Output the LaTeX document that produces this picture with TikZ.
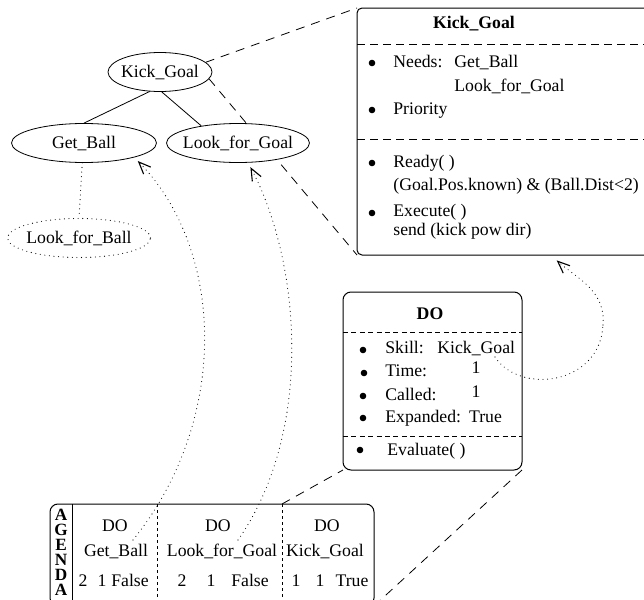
\documentclass[tikz,border=0pt]{standalone}
\usepackage{fontspec}
\setmainfont{Liberation Serif}
\usetikzlibrary{shapes.geometric,arrows.meta}
\pgfdeclarelayer{bg}
\pgfsetlayers{bg,main}

\begin{document}
\fontsize{8.85}{10.6}\selectfont
\begin{tikzpicture}[x=0.5pt,y=-0.5pt,
    bub/.style={ellipse,draw,fill=white,inner xsep=-3pt,inner ysep=0pt,minimum height=19.5pt},
    lbl/.style={inner sep=0pt,text height=6pt,text depth=1.6pt},
    ttl/.style={lbl,font=\bfseries},
    dotmark/.style={circle,fill,inner sep=0pt,minimum size=3.3pt},
    zoomln/.style={dash pattern=on 4.5pt off 3.5pt},
    topsep/.style={dash pattern=on 4pt off 2.5pt},
    dosep/.style={dash pattern=on 2.5pt off 1.7pt},
    agsep/.style={dash pattern=on 1.5pt off 1.5pt},
    dotln/.style={line width=0.55pt,line cap=round,dash pattern=on 0pt off 2.3pt},
    ptr/.style={dotln,shorten >=2.5pt,-{Straight Barb[length=6pt,width=5pt]}},
    boxln/.style={line width=0.5pt}]
  \useasboundingbox (0,0) rectangle (644,600);
  \clip (0,0) rectangle (644,600);

  \node[bub,minimum width=52pt] (kg) at (160,72) {Kick\_Goal};
  \node[bub,minimum width=72.5pt] (gb) at (84,143) {Get\_Ball};
  \node[bub,minimum width=71.5pt] (lg) at (238,143) {Look\_for\_Goal};
  \node[bub,dotln,minimum width=71.5pt] (lb) at (79,238) {Look\_for\_Ball};
  \draw (kg.-118) -- (gb.north);
  \draw (kg.-85) -- (lg.155);
  \draw[dotln] (gb.-95) -- (lb.north);

  \coordinate (kgNW) at (357,8);
  \coordinate (kgSW) at (357,255);
  \coordinate (kgSE) at (660,255);
  \draw[boxln,rounded corners=2.5pt] (kgNW) rectangle (kgSE);
  \begin{pgfonlayer}{bg}
    \draw[zoomln] (kg.12) -- (kgNW);
    \draw[zoomln] (kg.-8) -- (kgSW);
  \end{pgfonlayer}
  \node[ttl] (kgt) at (474,24) {Kick\_Goal};
  \draw[topsep] (357,44) -- (660,44);
  \node[dotmark] (kb1) at (372,63) {};
  \node[lbl,anchor=west] (kneed) at (393,63) {Needs:};
  \node[lbl,anchor=west] (kn1) at (454,63) {Get\_Ball};
  \node[lbl,anchor=west] (kn2) at (454,87) {Look\_for\_Goal};
  \node[dotmark] (kb2) at (372,110) {};
  \node[lbl,anchor=west] (kprio) at (393,110) {Priority};
  \draw[topsep] (357,139) -- (660,139);
  \node[dotmark] (kb3) at (372,163) {};
  \node[lbl,anchor=west] (kready) at (393,163) {Ready( )};
  \node[lbl,anchor=west] (kcond) at (393,186) {(Goal.Pos.known) \& (Ball.Dist<2)};
  \node[dotmark] (kb4) at (372,213) {};
  \node[lbl,anchor=west] (kexec) at (393,212) {Execute( )};
  \node[lbl,anchor=west] (ksend) at (393,231) {send (kick pow dir)};

  \coordinate (doNW) at (343,292);
  \coordinate (doSW) at (343,470);
  \coordinate (doSE) at (522,470);
  \draw[boxln,rounded corners=4pt] (doNW) rectangle (doSE);
  \node[ttl] (dot) at (430,315) {DO};
  \draw[dosep] (343,332) -- (522,332);
  \node[dotmark] (db1) at (363,350) {};
  \node[lbl,anchor=west] (dskill) at (385,349) {Skill:};
  \node[lbl,anchor=west] (dskv) at (437,349) {Kick\_Goal};
  \node[dotmark] (db2) at (364,373) {};
  \node[lbl,anchor=west] (dtime) at (385,372) {Time:};
  \node[lbl] (dtv) at (476,369) {1};
  \node[dotmark] (db3) at (363,396) {};
  \node[lbl,anchor=west] (dcall) at (385,396) {Called:};
  \node[lbl] (dcv) at (476,393) {1};
  \node[dotmark] (db4) at (363,418) {};
  \node[lbl,anchor=west] (dexp) at (385,418) {Expanded:\hspace{0.45em}True};
  \draw[dosep] (343,436) -- (522,436);
  \node[dotmark] (db5) at (360,450) {};
  \node[lbl,anchor=west] (deval) at (387,451) {Evaluate( )};

  \coordinate (agNW) at (50,504);
  \coordinate (agSE) at (374,606);
  \coordinate (ag2) at (282,504);
  \draw[boxln,rounded corners=4pt] (agNW) rectangle (agSE);
  \draw (72,504) -- (72,606);
  \draw[agsep] (157,504) -- (157,606);
  \draw[agsep] (ag2) -- (282,606);
  \node[inner sep=0pt,anchor=north,align=center,font=\fontsize{8.6}{7.5}\selectfont\bfseries] (agl) at (61,509) {A\\G\\E\\N\\D\\A};
  \node[lbl] (a1do) at (115,527) {DO};
  \node[lbl] (a1sk) at (116,552) {Get\_Ball};
  \node[lbl] (a1t) at (83,582) {2};
  \node[lbl] (a1c) at (102,582) {1};
  \node[lbl] (a1e) at (130,582) {False};
  \node[lbl] (a2do) at (218,527) {DO};
  \node[lbl] (a2sk) at (222,552) {Look\_for\_Goal};
  \node[lbl] (a2t) at (182,582) {2};
  \node[lbl] (a2c) at (211,582) {1};
  \node[lbl] (a2e) at (250,582) {False};
  \node[lbl] (a3do) at (327,527) {DO};
  \node[lbl] (a3sk) at (325,552) {Kick\_Goal};
  \node[lbl] (a3t) at (296,582) {1};
  \node[lbl] (a3c) at (320,582) {1};
  \node[lbl] (a3e) at (352,582) {True};
  \draw[zoomln] (ag2) -- (doSW);
  \draw[zoomln] (agSE) -- (doSE);

  \coordinate (p1) at (133,540);
  \coordinate (p2) at (238,540);
  \coordinate (p3) at (495,357);
  \coordinate (kgin) at (553,257);
  \draw[ptr] (p1) .. controls (230,420) and (225,250) .. (gb.-16);
  \draw[ptr] (p2) .. controls (315,430) and (300,260) .. (lg.-63);
  \draw[dotln] (p3) .. controls (520,395) and (600,385) .. (603,325);
  \draw[ptr] (603,325) .. controls (606,290) and (576,278) .. (kgin);
\end{tikzpicture}
\end{document}
